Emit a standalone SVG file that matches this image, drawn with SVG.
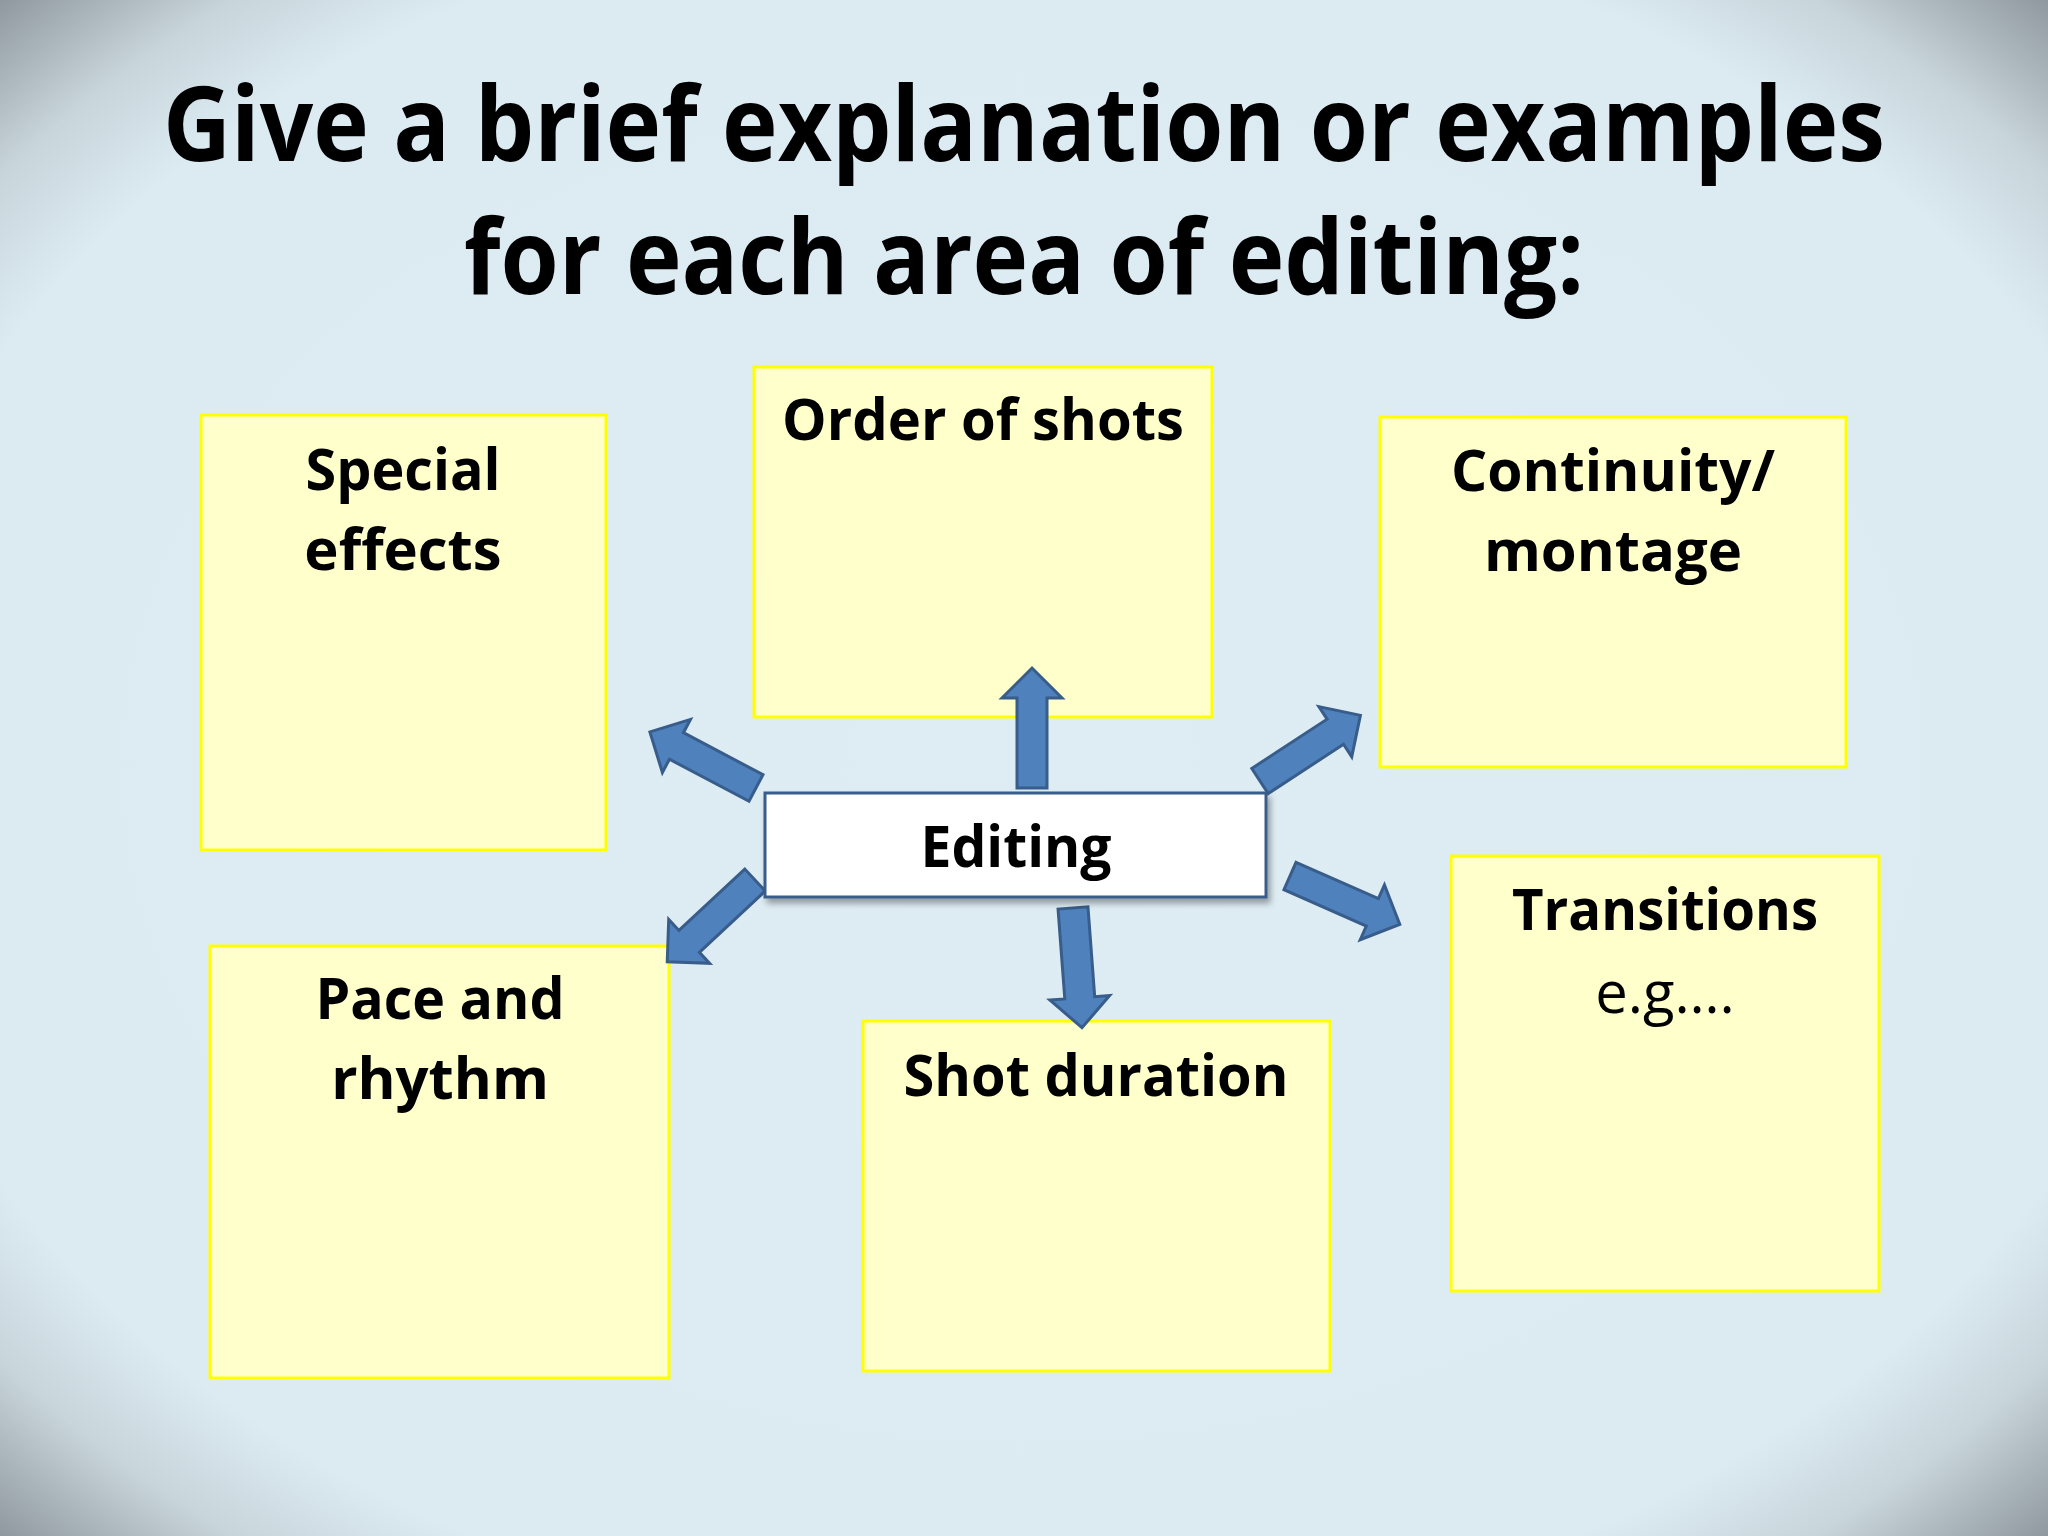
<svg xmlns="http://www.w3.org/2000/svg" width="2048" height="1536" viewBox="0 0 2048 1536">
<defs>
<radialGradient id="bg" cx="1024" cy="768" r="1090" gradientUnits="userSpaceOnUse" gradientTransform="translate(1024 768) scale(1.33 1) translate(-1024 -768)">
<stop offset="0" stop-color="#DEEDF4"/>
<stop offset="0.8" stop-color="#DCEBF2"/>
<stop offset="0.89" stop-color="#C8D5DB"/>
<stop offset="1" stop-color="#8E979D"/>
</radialGradient>
<filter id="sh" x="-10%" y="-20%" width="120%" height="150%">
<feDropShadow dx="3" dy="5" stdDeviation="3" flood-color="#000" flood-opacity="0.35"/>
</filter>
<path id="arr" d="M0,-15 L90,-15 L90,-30 L120,0 L90,30 L90,15 L0,15 Z"/>
<style>
.box{fill:#FFFFCC;stroke:#FFFF00;stroke-width:3}
.lbl{font-family:"Open Sans","Noto Sans","Liberation Sans",sans-serif;font-weight:bold;font-size:58px;fill:#000;text-anchor:middle}
.reg{font-family:"Open Sans","Noto Sans","Liberation Sans",sans-serif;font-size:58px;fill:#000;text-anchor:middle}
.title{font-family:"Open Sans","Noto Sans","Liberation Sans",sans-serif;font-weight:bold;font-size:104px;fill:#000;text-anchor:middle}
.a{fill:#4F81BD;stroke:#385D8A;stroke-width:3}
</style>
</defs>
<rect width="2048" height="1536" fill="url(#bg)"/>
<g id="title">
<text class="title" x="1024" y="161" textLength="1722" lengthAdjust="spacingAndGlyphs">Give a brief explanation or examples</text>
<text class="title" x="1024" y="294" textLength="1120" lengthAdjust="spacingAndGlyphs">for each area of editing:</text>
</g>
<g id="special-effects">
<rect class="box" x="201" y="415" width="405" height="435"/>
<text class="lbl" x="403" y="490" textLength="195" lengthAdjust="spacingAndGlyphs">Special</text>
<text class="lbl" x="403" y="570">effects</text>
</g>
<g id="order-of-shots">
<rect class="box" x="754" y="367" width="458" height="350"/>
<text class="lbl" x="983" y="440" textLength="402" lengthAdjust="spacingAndGlyphs">Order of shots</text>
</g>
<g id="continuity-montage">
<rect class="box" x="1380" y="417" width="466" height="350"/>
<text class="lbl" x="1613" y="491" textLength="324" lengthAdjust="spacingAndGlyphs">Continuity/</text>
<text class="lbl" x="1613" y="571">montage</text>
</g>
<g id="pace-and-rhythm">
<rect class="box" x="210" y="946" width="459" height="432"/>
<text class="lbl" x="440" y="1019" textLength="249" lengthAdjust="spacingAndGlyphs">Pace and</text>
<text class="lbl" x="440" y="1099">rhythm</text>
</g>
<g id="shot-duration">
<rect class="box" x="863" y="1021" width="467" height="350"/>
<text class="lbl" x="1096" y="1096" textLength="385" lengthAdjust="spacingAndGlyphs">Shot duration</text>
</g>
<g id="transitions">
<rect class="box" x="1451" y="856" width="428" height="435"/>
<text class="lbl" x="1665" y="930" textLength="306" lengthAdjust="spacingAndGlyphs">Transitions</text>
<text class="reg" x="1665" y="1013">e.g….</text>
</g>
<g id="connectors">
<use href="#arr" class="a" transform="translate(1032 788) rotate(-90)"/>
<use href="#arr" class="a" transform="translate(756 788) rotate(-152.15)"/>
<use href="#arr" class="a" transform="translate(1260 781) rotate(-33.2)"/>
<use href="#arr" class="a" transform="translate(755 880) rotate(137)"/>
<use href="#arr" class="a" transform="translate(1073 908) rotate(85.7)"/>
<use href="#arr" class="a" transform="translate(1290 876) rotate(23.8)"/>
</g>
<g id="editing">
<rect x="765" y="793" width="501" height="104" fill="#FFFFFF" stroke="#385D8A" stroke-width="3" filter="url(#sh)"/>
<text class="lbl" x="1016" y="867" textLength="191" lengthAdjust="spacingAndGlyphs">Editing</text>
</g>
</svg>
